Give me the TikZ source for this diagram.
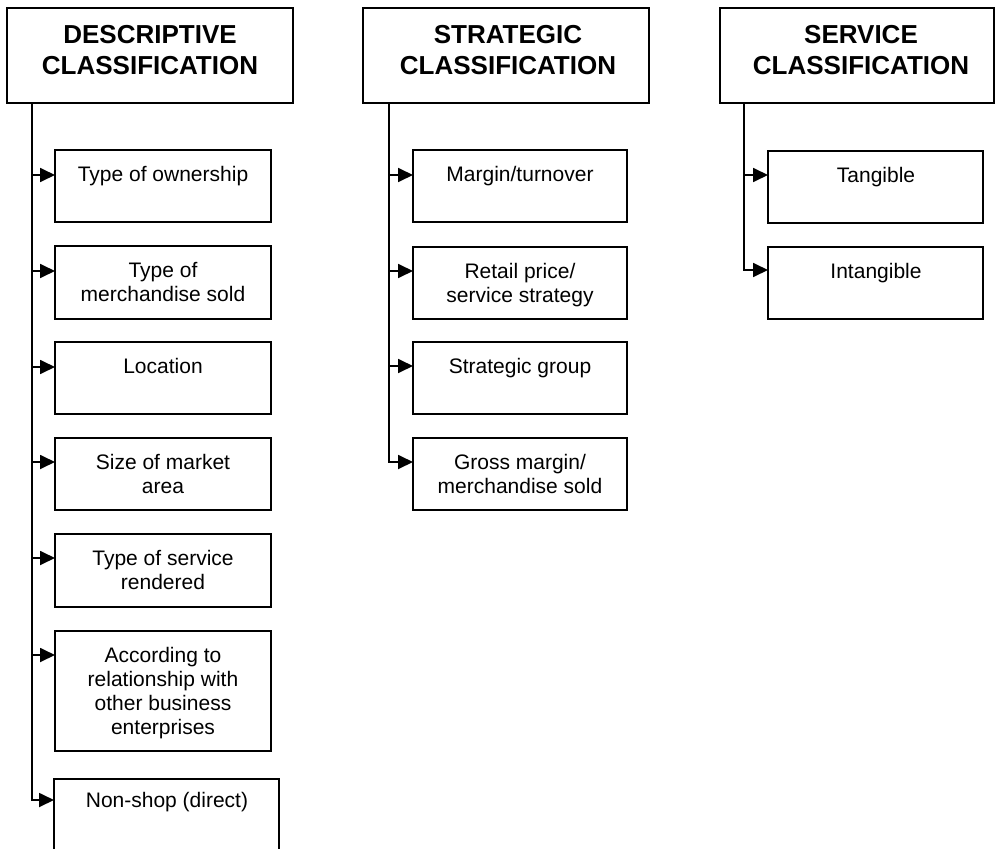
\documentclass[tikz,border=0pt]{standalone}
\usepackage{fontspec}
\setmainfont{Liberation Sans}
\usetikzlibrary{arrows.meta}
\tikzset{
  frame/.style={draw, line width=1.8pt, inner sep=0pt, outer sep=0pt, anchor=north west},
  headtxt/.style={font=\fontsize{26}{31}\selectfont\bfseries, align=center, inner sep=0pt, anchor=north},
  itemtxt/.style={font=\fontsize{21}{24}\selectfont, align=center, inner sep=0pt, anchor=north},
  feed/.style={line width=1.8pt, -{Triangle[length=15pt,width=14pt]}},
}
\begin{document}
\begin{tikzpicture}[x=1pt,y=-1pt]
\useasboundingbox (0,0) rectangle (995,848);
\clip (0,0) rectangle (995,848);

% ---------- headers ----------
\node[frame, minimum width=286pt, minimum height=95pt] (dh) at (7,8) {};
\node[headtxt] (dht) at (150,21.3) {\strut DESCRIPTIVE\\CLASSIFICATION};
\node[frame, minimum width=286pt, minimum height=95pt] (sh) at (363,8) {};
\node[headtxt] (sht) at (508,21.3) {\strut STRATEGIC\\CLASSIFICATION};
\node[frame, minimum width=274pt, minimum height=95pt] (vh) at (720,8) {};
\node[headtxt] (vht) at (861,21.3) {\strut SERVICE\\CLASSIFICATION};

% ---------- descriptive items ----------
\node[frame, minimum width=216pt, minimum height=72pt] (d1) at (55,150) {};
\node[itemtxt] (d1t) at (163,164.2) {\strut Type of ownership};
\node[frame, minimum width=216pt, minimum height=73pt] (d2) at (55,246) {};
\node[itemtxt] (d2t) at (163,260.2) {\strut Type of\\merchandise sold};
\node[frame, minimum width=216pt, minimum height=72pt] (d3) at (55,342) {};
\node[itemtxt] (d3t) at (163,356.2) {\strut Location};
\node[frame, minimum width=216pt, minimum height=72pt] (d4) at (55,438) {};
\node[itemtxt] (d4t) at (163,452.2) {\strut Size of market\\area};
\node[frame, minimum width=216pt, minimum height=73pt] (d5) at (55,534) {};
\node[itemtxt] (d5t) at (163,548.2) {\strut Type of service\\rendered};
\node[frame, minimum width=216pt, minimum height=120pt] (d6) at (55,631) {};
\node[itemtxt] (d6t) at (163,645.2) {\strut According to\\relationship with\\other business\\enterprises};
\node[frame, minimum width=225pt, minimum height=100pt] (d7) at (54,779) {};
\node[itemtxt] (d7t) at (167,790.2) {\strut Non-shop (direct)};

% ---------- strategic items ----------
\node[frame, minimum width=214pt, minimum height=72pt] (s1) at (413,150) {};
\node[itemtxt] (s1t) at (520,164.2) {\strut Margin/turnover};
\node[frame, minimum width=214pt, minimum height=72pt] (s2) at (413,247) {};
\node[itemtxt] (s2t) at (520,261.2) {\strut Retail price/\\service strategy};
\node[frame, minimum width=214pt, minimum height=72pt] (s3) at (413,342) {};
\node[itemtxt] (s3t) at (520,356.2) {\strut Strategic group};
\node[frame, minimum width=214pt, minimum height=72pt] (s4) at (413,438) {};
\node[itemtxt] (s4t) at (520,452.2) {\strut Gross margin/\\merchandise sold};

% ---------- service items ----------
\node[frame, minimum width=215pt, minimum height=72pt] (v1) at (768,151) {};
\node[itemtxt] (v1t) at (876,165.2) {\strut Tangible};
\node[frame, minimum width=215pt, minimum height=72pt] (v2) at (768,247) {};
\node[itemtxt] (v2t) at (876,261.2) {\strut Intangible};

% ---------- connector coordinates ----------
\coordinate (dx) at (32,103);
\coordinate (sx) at (389,103);
\coordinate (vx) at (744,103);
\coordinate (d1in) at ([yshift=-25pt]d1.north west);
\coordinate (d2in) at ([yshift=-25pt]d2.north west);
\coordinate (d3in) at ([yshift=-25pt]d3.north west);
\coordinate (d4in) at ([yshift=-24pt]d4.north west);
\coordinate (d5in) at ([yshift=-24pt]d5.north west);
\coordinate (d6in) at ([yshift=-24pt]d6.north west);
\coordinate (d7in) at ([yshift=-21pt]d7.north west);
\coordinate (s1in) at ([yshift=-25pt]s1.north west);
\coordinate (s2in) at ([yshift=-24pt]s2.north west);
\coordinate (s3in) at ([yshift=-24pt]s3.north west);
\coordinate (s4in) at ([yshift=-24pt]s4.north west);
\coordinate (v1in) at ([yshift=-24pt]v1.north west);
\coordinate (v2in) at ([yshift=-23pt]v2.north west);

% ---------- connectors ----------
\draw[feed] (dx) |- (d7in);
\foreach \n in {d1,d2,d3,d4,d5,d6} \draw[feed] (\n in -| dx) -- (\n in);
\draw[feed] (sx) |- (s4in);
\foreach \n in {s1,s2,s3} \draw[feed] (\n in -| sx) -- (\n in);
\draw[feed] (vx) |- (v2in);
\draw[feed] (v1in -| vx) -- (v1in);
\end{tikzpicture}
\end{document}
